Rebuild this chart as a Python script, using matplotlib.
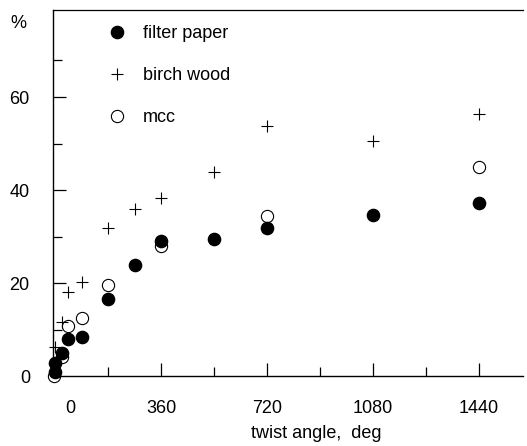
import matplotlib
matplotlib.use("Agg")
import matplotlib.pyplot as plt
from matplotlib.lines import Line2D

plt.rcParams['font.family'] = ['Liberation Sans', 'DejaVu Sans']

# data (twist angle in degrees, yield in %)
fp_x = [0, 0, 22.5, 45, 90, 180, 270, 360, 540, 720, 1080, 1440]
fp_y = [0.8, 2.7, 5.0, 7.9, 8.4, 16.6, 24.0, 29.0, 29.4, 31.9, 34.6, 37.3]

bw_x = [0, 22.5, 45, 90, 180, 270, 360, 540, 720, 1080, 1440]
bw_y = [6.2, 11.6, 18.0, 20.3, 31.8, 35.9, 38.4, 43.9, 53.9, 50.7, 56.5]

mcc_x = [-5, 22.5, 45, 90, 180, 360, 720, 1440]
mcc_y = [0.1, 4.0, 10.8, 12.4, 19.6, 27.9, 34.5, 45.0]

xticks = [0, 360, 720, 1080, 1440]
xtick_labels = ['', '360', '720', '1080', '1440']
xminor = [180, 540, 900, 1260]
yticks = [20, 40, 60]
yminor = [10, 30, 50, 68]

W, H = 527, 446
fig = plt.figure(figsize=(W / 100, H / 100), dpi=100)
ax = fig.add_axes([53.3 / W, 1 - 376 / H, (523 - 53.3) / W, (376 - 10) / H])

ms = 8.8
ax.plot(fp_x, fp_y, 'o', color='black', markersize=ms, clip_on=False, zorder=3,
        label='filter paper')
ax.plot(bw_x, bw_y, '+', color='black', markersize=ms, markeredgewidth=0.8,
        clip_on=False, zorder=3, label='birch wood')
ax.plot(mcc_x, mcc_y, 'o', markerfacecolor='white', markeredgecolor='black',
        markeredgewidth=0.8, markersize=ms, clip_on=False, zorder=2, label='mcc')

ax.set_xlim(-6, 1589)
ax.set_ylim(0, 78.8)

ax.spines['right'].set_visible(False)
for s in ['left', 'bottom']:
    ax.spines[s].set_linewidth(1.0)
ax.spines['top'].set_linewidth(0.9)

ax.set_xticks(xticks)
ax.set_xticklabels(xtick_labels)
ax.set_xticks(xminor, minor=True)
ax.set_yticks(yticks)
ax.set_yticks(yminor, minor=True)

fs = 13
ax.tick_params(axis='both', which='major', direction='in', length=9.5, width=0.9,
               labelsize=fs, pad=17)
ax.tick_params(axis='both', which='minor', direction='in', length=6.5, width=0.9)
ax.tick_params(top=False, right=False, which='both')

# "0" labels (placed as in the original)
ax.annotate('0', xy=(0, 0), xycoords='data', xytext=(11, -17),
            textcoords='offset points', ha='center', va='top', fontsize=fs,
            annotation_clip=False)
ax.annotate('0', xy=(0, 0), xycoords='data', xytext=(-18, -1.5),
            textcoords='offset points', ha='right', va='center', fontsize=fs,
            annotation_clip=False)

ax.set_xlabel('twist angle,  deg', fontsize=fs, x=0.559, labelpad=6)
fig.text(18.5 / W, 1 - 23 / H, '%', fontsize=fs, ha='center', va='center')

handles = [
    Line2D([], [], ls='none', marker='o', color='black', markersize=ms),
    Line2D([], [], ls='none', marker='+', color='black', markersize=ms, markeredgewidth=0.8),
    Line2D([], [], ls='none', marker='o', markerfacecolor='white', markeredgecolor='black',
           markeredgewidth=0.8, markersize=ms),
]
ax.legend(handles, ['filter paper', 'birch wood', 'mcc'], loc='upper left',
          bbox_to_anchor=(108 / W, 1 - 25 / H), bbox_transform=fig.transFigure,
          frameon=False, fontsize=fs, handlelength=1.0, handletextpad=0.95,
          labelspacing=1.38, borderpad=0, borderaxespad=0)

fig.savefig('out.png', dpi=100)
